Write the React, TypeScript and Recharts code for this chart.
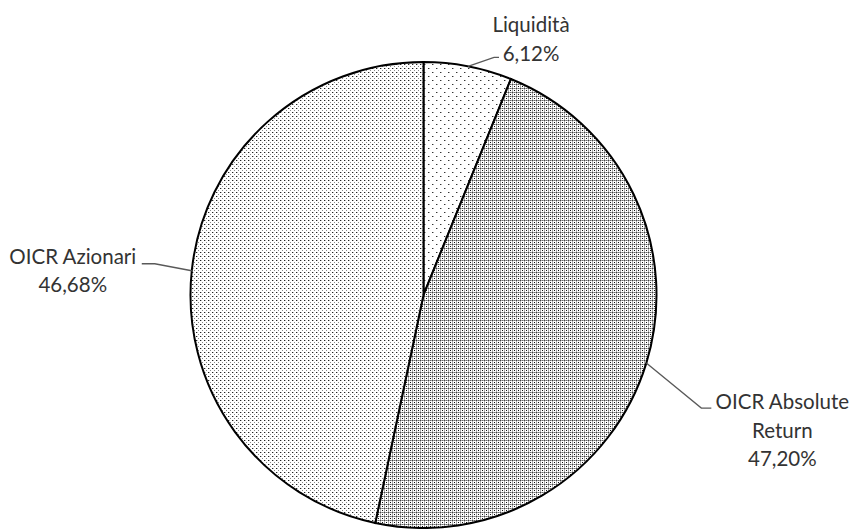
import React from 'react'
import { PieChart, Pie, Cell } from 'recharts'

const RADIAN = Math.PI / 180

const names = ['Liquidità', 'OICR Absolute Return', 'OICR Azionari']
const labelLines = [['Liquidità'], ['OICR Absolute', 'Return'], ['OICR Azionari']]
const values = [6.12, 47.2, 46.68]
const fills = ['url(#pat-liq)', 'url(#pat-abs)', 'url(#pat-azi)']

const data = names.map((name, i) => ({ name, value: values[i] }))

// leader line elbow offset, horizontal tick length, text centre offset (all from elbow)
const LABEL_LAYOUT = [
	{ dx: 26, dy: -9, tick: 5, tx: 37, ty: -33 },
	{ dx: 55, dy: 45, tick: 10, tx: 81, ty: -7 },
	{ dx: -37, dy: -7, tick: -13, tx: -82, ty: -8 },
]

const fmt = (v: number) => v.toFixed(2).replace('.', ',') + '%'

const renderLabel = ({ cx, cy, midAngle, outerRadius, index }: any) => {
	const lay = LABEL_LAYOUT[index]
	const ax = cx + outerRadius * Math.cos(-midAngle * RADIAN)
	const ay = cy + outerRadius * Math.sin(-midAngle * RADIAN)
	const ex = ax + lay.dx
	const ey = ay + lay.dy
	const lines = [...labelLines[index], fmt(values[index])]
	return (
		<g key={`lbl-${index}`}>
			<polyline
				points={`${ax},${ay} ${ex},${ey} ${ex + lay.tick},${ey}`}
				fill="none"
				stroke="#595959"
				strokeWidth={1.3}
			/>
			{lines.map((t, j) => (
				<text
					key={j}
					x={ex + lay.tx}
					y={ey + lay.ty + j * 28.5}
					textAnchor="middle"
					dominantBaseline="central"
					fill="#333"
					fontSize={20.5}
					fontFamily="Lato, 'Open Sans', sans-serif"
				>
					{t}
				</text>
			))}
		</g>
	)
}

export default function App() {
	return (
		<div style={{ position: 'absolute', left: 0, top: 0, width: 852, height: 529, background: '#fff' }}>
			<svg width={0} height={0} style={{ position: 'absolute' }}>
				<defs>
					<pattern id="pat-liq" width={8} height={8} patternUnits="userSpaceOnUse">
						<rect width={8} height={8} fill="#fff" />
						<rect x={0} y={0} width={1} height={1} fill="#333" />
						<rect x={4} y={4} width={1} height={1} fill="#333" />
						<rect x={1} y={0} width={1} height={1} fill="#aaa" />
						<rect x={5} y={4} width={1} height={1} fill="#aaa" />
					</pattern>
					<pattern id="pat-azi" width={4} height={4} patternUnits="userSpaceOnUse">
						<rect width={4} height={4} fill="#fff" />
						<rect x={0} y={0} width={1} height={1} fill="#222" />
						<rect x={2} y={2} width={1} height={1} fill="#888" />
						<rect x={1} y={0} width={1} height={1} fill="#bbb" />
					</pattern>
					<pattern id="pat-abs" width={4} height={4} patternUnits="userSpaceOnUse">
						<rect width={4} height={4} fill="#fff" />
						<rect x={0} y={0} width={4} height={1} fill="#aaa" />
						<rect x={0} y={0} width={1} height={4} fill="#aaa" />
						<rect x={2} y={2} width={1} height={1} fill="#111" />
						<rect x={0} y={0} width={1} height={1} fill="#444" />
						<rect x={2} y={0} width={1} height={1} fill="#666" />
					</pattern>
				</defs>
			</svg>
			<PieChart width={852} height={529} margin={{ top: 0, right: 0, bottom: 0, left: 0 }}>
				<Pie
					data={data}
					dataKey="value"
					cx={423.5}
					cy={295}
					outerRadius={233}
					startAngle={90}
					endAngle={-270}
					stroke="#000"
					strokeWidth={2}
					labelLine={false}
					label={renderLabel}
					isAnimationActive={false}
				>
					{data.map((d, i) => (
						<Cell key={`cell-${i}`} fill={fills[i]} />
					))}
				</Pie>
			</PieChart>
		</div>
	)
}
